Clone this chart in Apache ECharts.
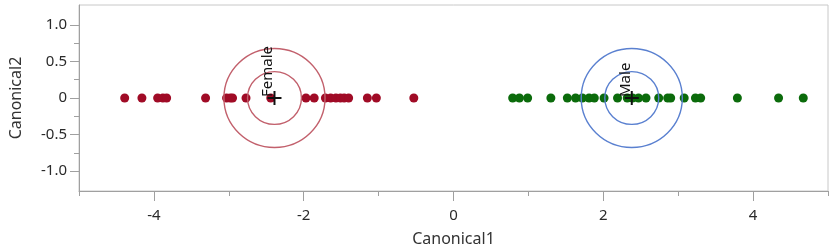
<!DOCTYPE html>
<html>
<head>
<meta charset="utf-8">
<script src="https://cdn.jsdelivr.net/npm/echarts@6/dist/echarts.min.js"></script>
<style>html,body{margin:0;padding:0;background:#fff}#c{width:832px;height:252px}</style>
</head>
<body>
<div id="c"></div>
<script>
// ---- data ----
const groups = ['Female', 'Male'];
const femaleCanonical1 = [-4.39, -4.16, -3.95, -3.88, -3.83, -3.31, -3.03, -2.98, -2.95, -2.77, -2.44,
  -1.97, -1.86, -1.71, -1.64, -1.57, -1.51, -1.46, -1.40, -1.15, -1.03, -0.53];
const maleCanonical1 = [0.79, 0.88, 0.99, 1.30, 1.52, 1.63, 1.72, 1.81, 1.88, 2.01, 2.19, 2.32, 2.39,
  2.47, 2.57, 2.74, 2.86, 2.90, 3.08, 3.23, 3.30, 3.79, 4.34, 4.67];
const groupMeanC1 = [-2.39, 2.38];
const groupMeanC2 = [0, 0];
const circleRadii = [0.36, 0.675];
const xMajorTicks = [-4, -2, 0, 2, 4];
const xMinorTicks = [-5, -3, -1, 1, 3, 5];
const yMajorTicks = [-1, -0.5, 0, 0.5, 1];
const yMinorTicks = [-0.75, -0.25, 0.25, 0.75];

const dotColors = ['#A00B26', '#0B6B0B'];
const circleColors = ['#C2606C', '#5A80D0'];
const FONT = 'Noto Sans';

const chart = echarts.init(document.getElementById('c'), null, {renderer: 'canvas'});

const circleData = [];
groups.forEach((g, i) => circleRadii.forEach(r => circleData.push([groupMeanC1[i], groupMeanC2[i], r, i])));
const meanData = groups.map((g, i) => [groupMeanC1[i], groupMeanC2[i], i]);

const axisCommon = {
  type: 'value',
  splitLine: {show: false},
};

chart.setOption({
  animation: false,
  grid: {left: 78, width: 750, top: 5, bottom: 60, show: true, borderColor: '#c8c8c8', borderWidth: 1, containLabel: false},
  xAxis: [
    Object.assign({}, axisCommon, {
      min: -5, max: 5, interval: 1, position: 'bottom',
      name: 'Canonical1', nameLocation: 'middle', nameGap: 40,
      nameTextStyle: {fontFamily: FONT, fontSize: 16, color: '#333'},
      axisLine: {show: true, onZero: false, lineStyle: {color: '#a0a0a0', width: 1}},
      axisTick: {show: true, length: 10, customValues: xMajorTicks, lineStyle: {color: '#a0a0a0'}},
      axisLabel: {customValues: xMajorTicks, margin: 17, fontFamily: FONT, fontSize: 15, color: '#2a2a2a'}
    }),
    Object.assign({}, axisCommon, {
      min: -5, max: 5, interval: 1, position: 'bottom',
      axisLine: {show: false, onZero: false},
      axisTick: {show: true, length: 5, customValues: xMinorTicks, lineStyle: {color: '#a0a0a0'}},
      axisLabel: {show: false}
    })
  ],
  yAxis: [
    Object.assign({}, axisCommon, {
      min: -1.27, max: 1.27, position: 'left',
      name: 'Canonical2', nameLocation: 'middle', nameGap: 55,
      nameTextStyle: {fontFamily: FONT, fontSize: 16, color: '#333'},
      axisLine: {show: true, onZero: false, lineStyle: {color: '#a0a0a0', width: 1}},
      axisTick: {show: true, length: 9, customValues: yMajorTicks, lineStyle: {color: '#a0a0a0'}},
      axisLabel: {customValues: yMajorTicks, margin: 12, fontFamily: FONT, fontSize: 15, color: '#2a2a2a',
        formatter: v => (v === 0 ? '0' : v.toFixed(1))}
    }),
    Object.assign({}, axisCommon, {
      min: -1.27, max: 1.27, position: 'left',
      axisLine: {show: false, onZero: false},
      axisTick: {show: true, length: 5, customValues: yMinorTicks, lineStyle: {color: '#a0a0a0'}},
      axisLabel: {show: false}
    })
  ],
  series: [
    {
      type: 'scatter', name: 'Female', symbol: 'circle', symbolSize: 9,
      data: femaleCanonical1.map(v => [v, 0]),
      itemStyle: {color: dotColors[0], opacity: 1}, z: 2
    },
    {
      type: 'scatter', name: 'Male', symbol: 'circle', symbolSize: 9,
      data: maleCanonical1.map(v => [v, 0]),
      itemStyle: {color: dotColors[1], opacity: 1}, z: 2
    },
    {
      type: 'custom', z: 3,
      data: circleData,
      encode: {x: 0, y: 1},
      renderItem: (params, api) => {
        const c = api.coord([api.value(0), api.value(1)]);
        const r = api.value(2);
        const rx = api.size([r, 0])[0];
        const ry = api.size([0, r])[1];
        return {
          type: 'ellipse',
          shape: {cx: c[0], cy: c[1], rx: rx, ry: ry},
          style: {fill: 'none', stroke: circleColors[api.value(3)], lineWidth: 1.4}
        };
      }
    },
    {
      type: 'custom', z: 4,
      data: meanData,
      encode: {x: 0, y: 1},
      renderItem: (params, api) => {
        const c = api.coord([api.value(0), api.value(1)]);
        const h = 7;
        return {
          type: 'group',
          children: [
            {type: 'line', shape: {x1: c[0] - h, y1: c[1], x2: c[0] + h, y2: c[1]}, style: {stroke: '#111', lineWidth: 2}},
            {type: 'line', shape: {x1: c[0], y1: c[1] - h, x2: c[0], y2: c[1] + h}, style: {stroke: '#111', lineWidth: 2}},
            {type: 'text', x: c[0] + 1, y: c[1] - 1, rotation: Math.PI / 2,
              style: {text: groups[api.value(2)], fill: '#111', font: '15px "' + FONT + '"', align: 'left', verticalAlign: 'bottom'}}
          ]
        };
      }
    }
  ]
});
</script>
</body>
</html>
